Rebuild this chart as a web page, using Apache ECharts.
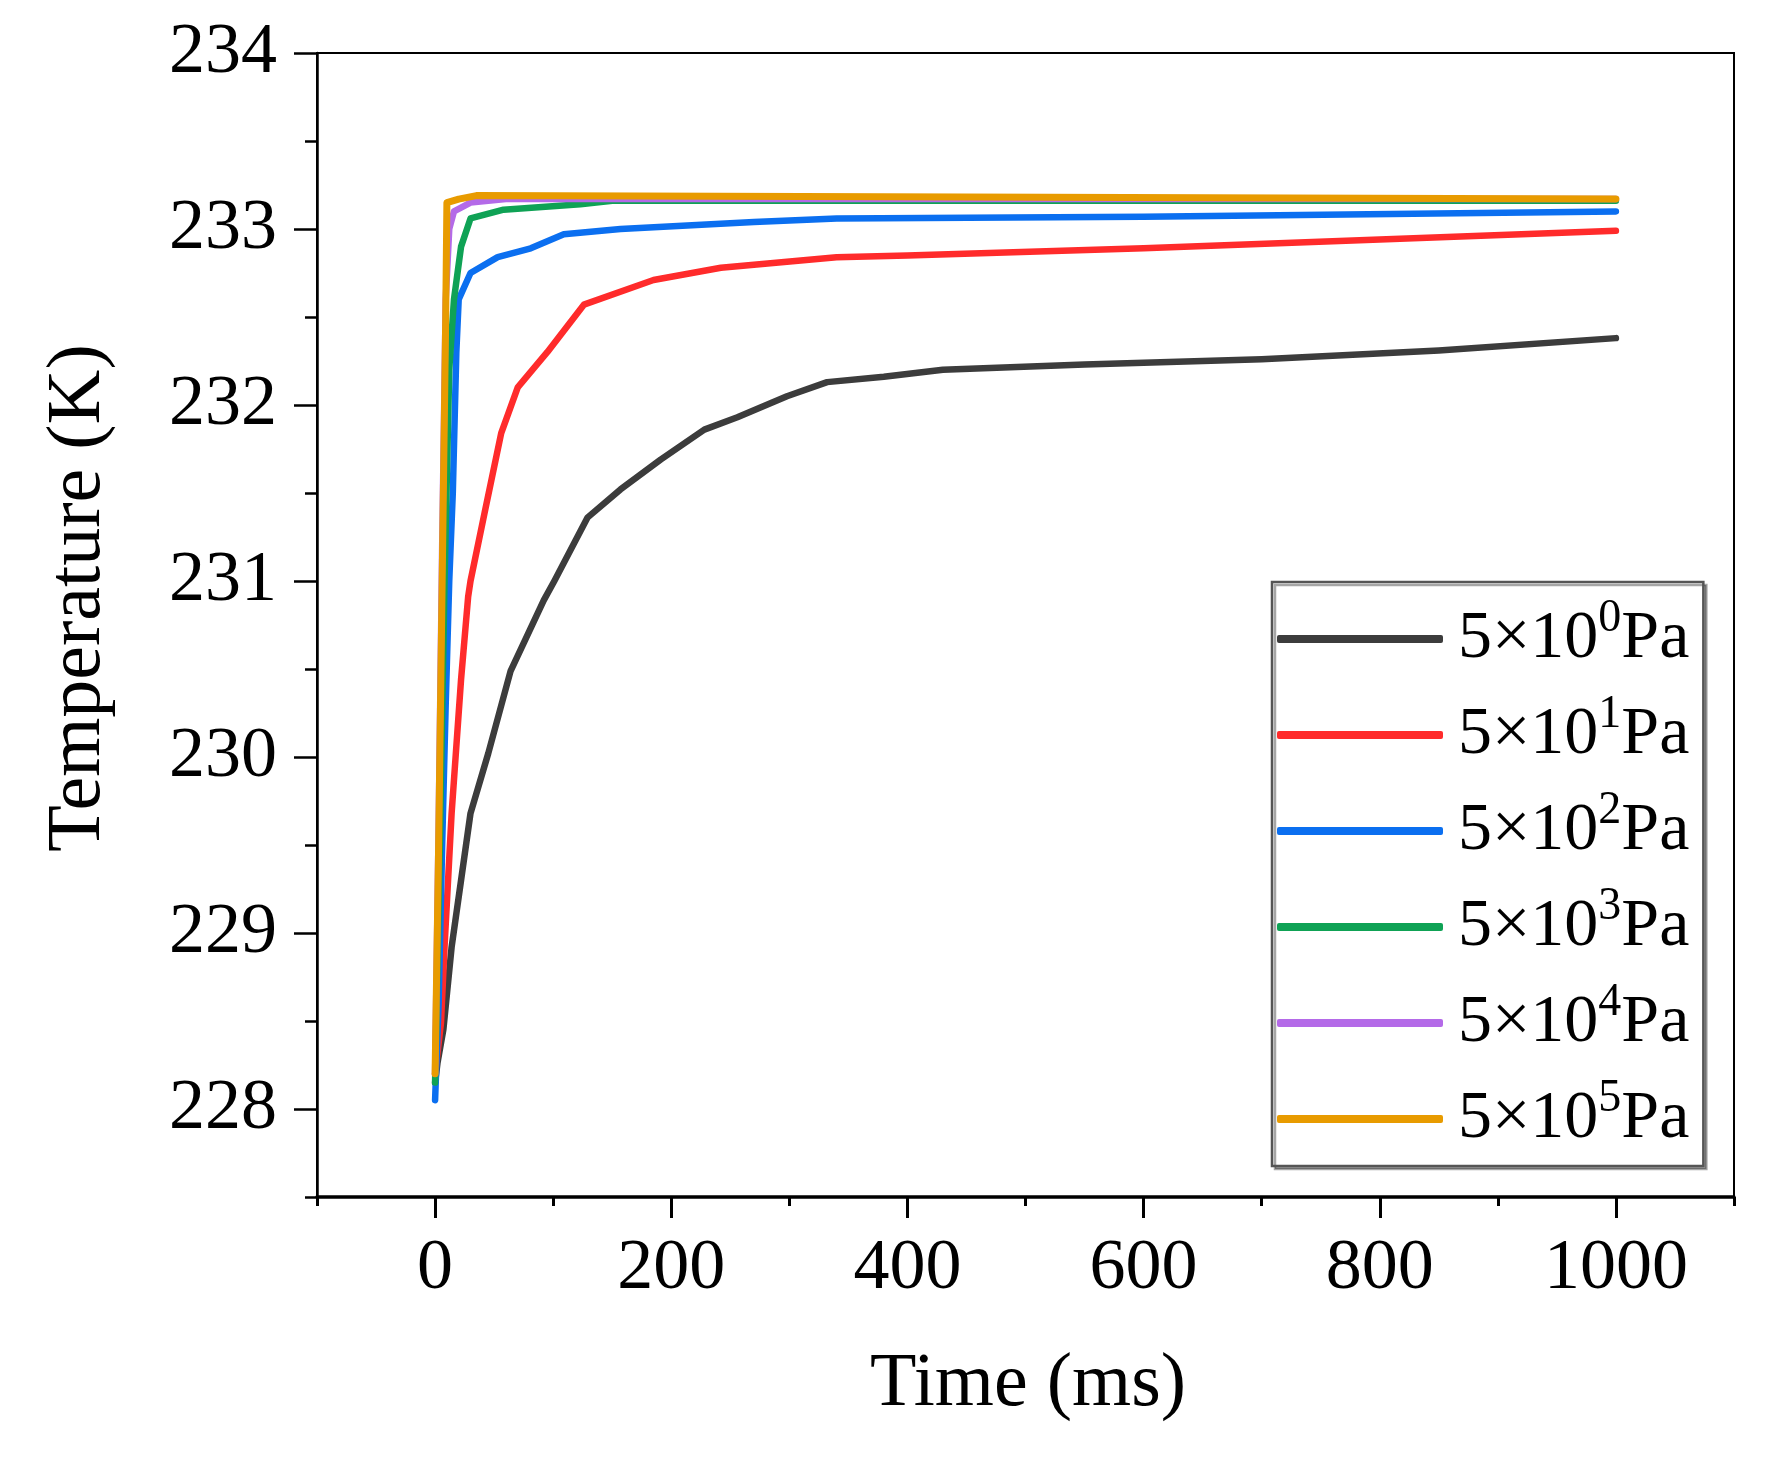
<!DOCTYPE html>
<html>
<head>
<meta charset="utf-8">
<script src="https://cdn.jsdelivr.net/npm/echarts@6/dist/echarts.min.js"></script>
<style>
html,body{margin:0;padding:0;background:#fff;}
#chart{width:1779px;height:1457px;}
</style>
</head>
<body>
<div id="chart"></div>
<script>
// ---- data ----
const seriesNames = ['5×10^0Pa', '5×10^1Pa', '5×10^2Pa', '5×10^3Pa', '5×10^4Pa', '5×10^5Pa'];
const exponents = ['0', '1', '2', '3', '4', '5'];
const colors = ['#3c3c3c', '#ff2b2b', '#0b6ff0', '#0fa255', '#b46ae8', '#e89b00'];

const t0 = [0, 2, 7, 14, 22, 30, 45, 64, 92, 101, 129, 157, 191, 228, 256, 298, 332, 380, 430, 550, 700, 850, 1000];
const T0 = [228.15, 228.26, 228.45, 228.92, 229.3, 229.68, 230.02, 230.49, 230.89, 231.0, 231.36, 231.52, 231.69, 231.86, 231.93, 232.05, 232.13, 232.16, 232.2, 232.23, 232.26, 232.31, 232.38];

const t1 = [0, 5, 8, 14, 22, 28, 30, 42, 56, 70, 95, 126, 185, 242, 340, 400, 600, 800, 1000];
const T1 = [228.2, 228.49, 228.92, 229.68, 230.44, 230.91, 231.0, 231.39, 231.84, 232.1, 232.3, 232.57, 232.71, 232.78, 232.84, 232.85, 232.89, 232.94, 232.99];

const t2 = [0, 3, 6, 9, 12, 15, 18, 20, 30, 53, 81, 109, 157, 270, 340, 600, 1000];
const T2 = [228.05, 228.6, 229.5, 230.3, 231.0, 231.5, 232.3, 232.6, 232.75, 232.84, 232.89, 232.97, 233.0, 233.04, 233.06, 233.07, 233.1];

const t3 = [0, 4, 8, 12, 16, 22, 30, 58, 123, 150, 1000];
const T3 = [228.15, 229.5, 231.0, 232.2, 232.6, 232.9, 233.06, 233.11, 233.14, 233.16, 233.16];

const t4 = [0, 3, 6, 9, 12, 16, 30, 60, 1000];
const T4 = [228.2, 229.6, 231.2, 232.6, 233.0, 233.1, 233.15, 233.17, 233.17];

const t5 = [0, 3, 6, 9, 10, 20, 35, 1000];
const T5 = [228.2, 229.5, 231.0, 232.5, 233.15, 233.17, 233.19, 233.17];

const xMajorTicks = [0, 200, 400, 600, 800, 1000];
const xMinorTicks = [-100, 100, 300, 500, 700, 900, 1100];
const yMajorTicks = [228, 229, 230, 231, 232, 233, 234];
const yMinorTicks = [227.5, 228.5, 229.5, 230.5, 231.5, 232.5, 233.5];

const times = [t0, t1, t2, t3, t4, t5];
const temps = [T0, T1, T2, T3, T4, T5];

// ---- chart ----
const FONT = "'Liberation Serif', 'Times New Roman', serif";
const chart = echarts.init(document.getElementById('chart'), null, {renderer: 'canvas'});

const series = seriesNames.map((name, i) => ({
  name: name,
  type: 'line',
  xAxisIndex: 0,
  yAxisIndex: 0,
  showSymbol: false,
  symbol: 'none',
  smooth: false,
  color: colors[i],
  lineStyle: {width: i === 5 ? 7 : 6.5, color: colors[i], cap: 'round', join: 'round'},
  data: times[i].map((t, k) => [t, temps[i][k]]),
  z: 2 + i
}));

const option = {
  backgroundColor: '#fff',
  animation: false,
  grid: {
    left: 317, right: 45, top: 53, bottom: 260,
    show: true, borderColor: '#000', borderWidth: 2, backgroundColor: 'transparent'
  },
  legend: {
    orient: 'vertical',
    left: 1272, top: 582,
    data: seriesNames,
    icon: 'roundRect',
    itemWidth: 166, itemHeight: 8,
    itemGap: 10,
    padding: [14, 14, 4, 5],
    borderColor: '#555', borderWidth: 2.5,
    backgroundColor: '#fff',
    shadowColor: 'rgba(0,0,0,0.35)', shadowOffsetX: 3, shadowOffsetY: 3, shadowBlur: 0,
    formatter: function (name) {
      const i = seriesNames.indexOf(name);
      return '{b|5×10}{s|' + exponents[i] + '}{b|Pa}';
    },
    textStyle: {
      fontFamily: FONT, color: '#000', fontSize: 68,
      padding: [0, 0, 0, 10],
      rich: {
        b: {fontFamily: FONT, fontSize: 68, lineHeight: 70, color: '#000'},
        s: {fontFamily: FONT, fontSize: 46, lineHeight: 30, padding: [0, 0, 40, 0], color: '#000'}
      }
    }
  },
  xAxis: [
    {
      type: 'value', min: -100, max: 1100,
      position: 'bottom',
      name: 'Time (ms)', nameLocation: 'middle', nameGap: 150,
      nameTextStyle: {fontFamily: FONT, fontSize: 76, color: '#000', padding: [0, 0, 0, 5]},
      axisLine: {show: true, onZero: false, lineStyle: {color: '#000', width: 3.5}},
      axisTick: {show: true, inside: false, length: 21, lineStyle: {color: '#000', width: 3}, customValues: xMajorTicks},
      axisLabel: {show: true, margin: 36, fontFamily: FONT, fontSize: 72, color: '#000', customValues: xMajorTicks,
        formatter: function (v) { return String(v); }},
      splitLine: {show: false}
    },
    {
      type: 'value', min: -100, max: 1100,
      position: 'bottom',
      axisLine: {show: false, onZero: false},
      axisTick: {show: true, inside: false, length: 9, lineStyle: {color: '#000', width: 3}, customValues: xMinorTicks},
      axisLabel: {show: false},
      splitLine: {show: false}
    }
  ],
  yAxis: [
    {
      type: 'value', min: 227.5, max: 234,
      position: 'left',
      name: 'Temperature (K)', nameLocation: 'middle', nameGap: 200,
      nameTextStyle: {fontFamily: FONT, fontSize: 76, color: '#000', padding: [0, 0, 0, 54]},
      axisLine: {show: true, onZero: false, lineStyle: {color: '#000', width: 2.5}},
      axisTick: {show: true, inside: false, length: 23, lineStyle: {color: '#000', width: 2.5}, customValues: yMajorTicks},
      axisLabel: {show: true, margin: 40, fontFamily: FONT, fontSize: 72, color: '#000', customValues: yMajorTicks,
        formatter: function (v) { return String(v); }},
      splitLine: {show: false}
    },
    {
      type: 'value', min: 227.5, max: 234,
      position: 'left',
      axisLine: {show: false, onZero: false},
      axisTick: {show: true, inside: false, length: 12, lineStyle: {color: '#000', width: 2.5}, customValues: yMinorTicks},
      axisLabel: {show: false},
      splitLine: {show: false}
    }
  ],
  series: series
};
chart.setOption(option);
</script>
</body>
</html>
